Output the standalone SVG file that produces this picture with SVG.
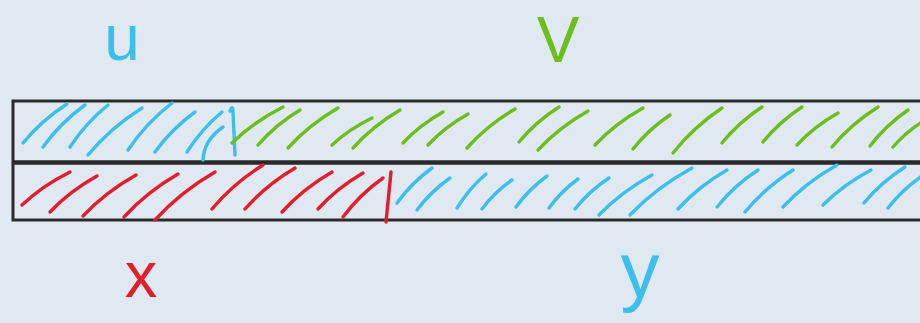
<svg xmlns="http://www.w3.org/2000/svg" width="920" height="323" viewBox="0 0 920 323">
<style>
.bg{fill:#e0e8f1}
.frame{fill:none;stroke:#2a2a2a;stroke-width:3;stroke-linejoin:miter}
.mid{fill:none;stroke:#2a2a2a;stroke-width:4.5}
.h{fill:none;stroke-width:3.4;stroke-linecap:round;stroke-linejoin:round}
.blue{stroke:#3cbfea}
.green{stroke:#6cbd1e}
.red{stroke:#e01f2c}
.lbl{font-family:"Liberation Sans",Arial,sans-serif;text-anchor:middle}
</style>
<rect class="bg" x="0" y="0" width="920" height="323"/>
<g id="bar">
<path class="frame" d="M925,101 H13 V220 H925"/>
<path class="mid" d="M13,162.5 H925"/>
</g>
<g id="hatch-u" class="h blue">
<path d="M23,143 Q41.5,120.4 67,104"/>
<path d="M43,147 Q60.6,122.6 85,105"/>
<path d="M70,147 Q86,122.6 108,105"/>
<path d="M88,155 Q110.7,127.7 142,108"/>
<path d="M128,150 Q146.5,122.7 172,103"/>
<path d="M155,152 Q171.8,128.8 195,112"/>
<path d="M187,152 Q201.7,128.8 222,112"/>
<path d="M203,160 Q204,140 223,127"/>
<path d="M230,111 Q233,104 233,112 L235,155"/>
</g>
<g id="hatch-v" class="h green">
<path d="M232,143 Q253.4,122.1 283,107"/>
<path d="M258,145 Q275.6,124.7 300,110"/>
<path d="M288,148 Q309,124.8 338,108"/>
<path d="M332,145 Q348.8,129.3 372,118"/>
<path d="M353,148 Q372.7,126 400,110"/>
<path d="M403,143 Q419.8,125 443,112"/>
<path d="M428,145 Q444.8,127 468,114"/>
<path d="M467,148 Q487.2,125.4 515,109"/>
<path d="M519,142 Q535.8,121.7 559,107"/>
<path d="M538,150 Q559,127.4 588,111"/>
<path d="M595,145 Q615.2,123.5 643,108"/>
<path d="M633,149 Q648.5,129.3 670,115"/>
<path d="M673,153 Q693.6,126.9 722,108"/>
<path d="M722,143 Q738.8,122.1 762,107"/>
<path d="M763,142 Q779.4,121.7 802,107"/>
<path d="M797,145 Q814.2,126.4 838,113"/>
<path d="M832,147 Q851.3,123.8 878,107"/>
<path d="M870,146 Q886,125.1 908,110"/>
<path d="M893,147 Q906.4,131.3 925,120"/>
</g>
<g id="hatch-x" class="h red">
<path d="M22,205 Q42.2,185.9 70,172"/>
<path d="M50,212 Q69.7,191.1 97,176"/>
<path d="M83,216 Q105.3,192.2 136,175"/>
<path d="M124,217 Q146.7,192.1 178,174"/>
<path d="M155,220 Q180.2,192.2 215,172"/>
<path d="M212,209 Q233.4,183.5 263,165"/>
<path d="M245,209 Q266,185.2 295,168"/>
<path d="M282,212 Q303,188.8 332,172"/>
<path d="M318,209 Q336.9,188.1 363,173"/>
<path d="M343,217 Q359.8,194.4 383,178"/>
<path d="M391,172 L386,222"/>
</g>
<g id="hatch-y" class="h blue">
<path d="M397,203 Q411.7,182.7 432,168"/>
<path d="M417,210 Q430.9,191.4 450,178"/>
<path d="M457,208 Q469.2,188.3 486,174"/>
<path d="M482,209 Q494.6,192.2 512,180"/>
<path d="M516,207 Q529,189 547,176"/>
<path d="M549,208 Q561.2,191.2 578,179"/>
<path d="M575,209 Q589.3,191 609,178"/>
<path d="M599,215 Q621.3,191.8 652,175"/>
<path d="M630,215 Q656,187.7 692,168"/>
<path d="M678,209 Q698.6,186.4 727,170"/>
<path d="M717,207 Q734.2,185.5 758,170"/>
<path d="M745,212 Q765.2,187.6 793,170"/>
<path d="M783,207 Q805.7,182.6 837,165"/>
<path d="M823,205 Q843.2,184.7 871,170"/>
<path d="M864,203 Q881.2,182.1 905,167"/>
<path d="M888,208 Q903.5,188.3 925,174"/>
</g>
<g id="label-u"><text class="lbl" x="122" y="60" font-size="64" fill="#3cbfea">u</text></g>
<g id="label-v"><text class="lbl" x="558" y="62" font-size="64" fill="#6cbd1e">V</text></g>
<g id="label-x"><text class="lbl" x="141" y="297" font-size="65" fill="#e01f2c">x</text></g>
<g id="label-y"><text class="lbl" x="640" y="297" font-size="78" fill="#3cbfea">y</text></g>
</svg>
